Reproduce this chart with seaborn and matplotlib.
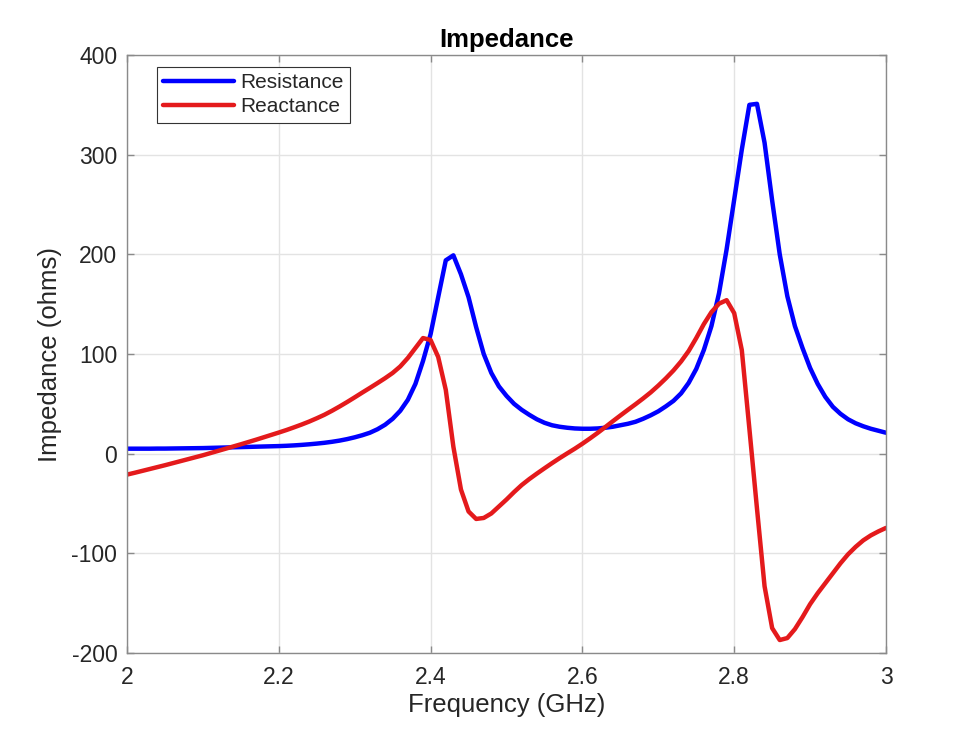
import numpy as np
import pandas as pd
import matplotlib
matplotlib.use("Agg")
import matplotlib.pyplot as plt
import seaborn as sns

FREQ_GHZ = [2.00, 2.01, 2.02, 2.03, 2.04, 2.05, 2.06, 2.07, 2.08, 2.09,
            2.10, 2.11, 2.12, 2.13, 2.14, 2.15, 2.16, 2.17, 2.18, 2.19,
            2.20, 2.21, 2.22, 2.23, 2.24, 2.25, 2.26, 2.27, 2.28, 2.29,
            2.30, 2.31, 2.32, 2.33, 2.34, 2.35, 2.36, 2.37, 2.38, 2.39,
            2.40, 2.41, 2.42, 2.43, 2.44, 2.45, 2.46, 2.47, 2.48, 2.49,
            2.50, 2.51, 2.52, 2.53, 2.54, 2.55, 2.56, 2.57, 2.58, 2.59,
            2.60, 2.61, 2.62, 2.63, 2.64, 2.65, 2.66, 2.67, 2.68, 2.69,
            2.70, 2.71, 2.72, 2.73, 2.74, 2.75, 2.76, 2.77, 2.78, 2.79,
            2.80, 2.81, 2.82, 2.83, 2.84, 2.85, 2.86, 2.87, 2.88, 2.89,
            2.90, 2.91, 2.92, 2.93, 2.94, 2.95, 2.96, 2.97, 2.98, 2.99,
            3.00]

RESISTANCE = [5.0, 5.0, 5.0, 5.0, 5.1, 5.1, 5.2, 5.3, 5.4, 5.5,
              5.6, 5.8, 6.0, 6.2, 6.4, 6.6, 6.8, 7.0, 7.2, 7.4,
              7.6, 7.9, 8.3, 8.8, 9.4, 10.1, 10.9, 11.9, 13.1, 14.6,
              16.4, 18.5, 21.0, 24.5, 29.0, 35.0, 43.0, 54.0, 70.0, 93.0,
              120.0, 157.0, 194.0, 199.0, 180.0, 157.0, 127.0, 100.0, 81.0, 67.5,
              58.0, 50.0, 44.0, 39.0, 34.5, 31.0, 28.5, 27.0, 26.0, 25.3,
              25.0, 25.0, 25.3, 26.0, 27.0, 28.5, 30.0, 32.0, 35.0, 38.5,
              42.5, 47.5, 53.0, 60.5, 71.0, 85.0, 104.0, 128.0, 161.0, 205.0,
              255.0, 305.0, 350.0, 351.0, 312.0, 254.0, 200.0, 158.0, 128.0, 106.0,
              86.0, 70.0, 57.0, 47.0, 40.0, 34.5, 30.5, 27.5, 25.0, 23.0,
              21.0]

REACTANCE = [-21.0, -19.2, -17.3, -15.4, -13.5, -11.6, -9.6, -7.6, -5.6, -3.6,
             -1.6, 0.6, 2.8, 5.0, 7.2, 9.4, 11.7, 14.0, 16.4, 18.8,
             21.2, 23.7, 26.4, 29.2, 32.2, 35.5, 39.0, 43.0, 47.3, 51.8,
             56.5, 61.3, 66.0, 70.8, 75.7, 81.0, 87.5, 96.0, 106.0, 116.0,
             114.0, 97.0, 64.0, 7.0, -36.0, -58.0, -65.5, -64.5, -60.0, -53.0,
             -46.0, -38.5, -31.5, -25.5, -20.0, -14.7, -9.5, -4.5, 0.3, 5.0,
             10.0, 15.3, 20.8, 26.6, 32.5, 38.3, 44.0, 49.6, 55.4, 61.5,
             68.3, 75.6, 83.5, 92.5, 103.0, 116.0, 130.0, 142.0, 150.5, 154.0,
             141.0, 104.0, 25.0, -55.0, -133.0, -175.0, -187.0, -185.0, -176.0, -164.0,
             -151.0, -140.0, -130.0, -120.0, -110.0, -101.0, -93.5, -87.0, -82.0, -78.0,
             -74.5]

SERIES_NAMES = ["Resistance", "Reactance"]
COLORS = ["#0000FF", "#E41A1C"]

df = pd.DataFrame({
    "Frequency": FREQ_GHZ * 2,
    "Impedance": RESISTANCE + REACTANCE,
    "Series": [SERIES_NAMES[0]] * len(FREQ_GHZ) + [SERIES_NAMES[1]] * len(FREQ_GHZ),
})

sns.set_style("white")
plt.rcParams["font.family"] = ["Liberation Sans", "DejaVu Sans"]

fig = plt.figure(figsize=(9.8, 7.35), dpi=100)
ax = fig.add_axes([127 / 980, (735 - 653) / 735, (886 - 127) / 980, (653 - 55) / 735])

sns.lineplot(data=df, x="Frequency", y="Impedance", hue="Series",
             palette=dict(zip(SERIES_NAMES, COLORS)), linewidth=3.2,
             ax=ax, legend=True, sort=False, estimator=None)

ax.set_xlim(2, 3)
ax.set_ylim(-200, 400)
ax.set_xticks([2, 2.2, 2.4, 2.6, 2.8, 3])
ax.set_xticklabels(["2", "2.2", "2.4", "2.6", "2.8", "3"])
ax.set_yticks([-200, -100, 0, 100, 200, 300, 400])
ax.set_yticklabels(["-200", "-100", "0", "100", "200", "300", "400"])

spine_col = "#8a8a8a"
text_col = "#262626"
for s in ax.spines.values():
    s.set_visible(True)
    s.set_color(spine_col)
    s.set_linewidth(1.0)
ax.grid(True, color="#e3e3e3", linewidth=1.0)
ax.set_axisbelow(True)
ax.tick_params(axis="both", which="major", direction="in", length=5,
               width=1.0, color=spine_col, labelcolor=text_col,
               labelsize=16.5, top=True, right=True, bottom=True, left=True)
ax.tick_params(axis="x", pad=9)
ax.tick_params(axis="y", pad=7)

ax.set_xlabel("Frequency (GHz)", fontsize=18.5, color=text_col, labelpad=3)
ax.set_ylabel("Impedance (ohms)", fontsize=18.5, color=text_col, labelpad=7)
ax.set_title("Impedance", fontsize=18.5, fontweight="bold", color="black", pad=6)

handles, labels = ax.get_legend_handles_labels()
leg = ax.legend(handles, labels, loc="upper left",
                bbox_to_anchor=(30 / 759, 1 - 12 / 598), borderaxespad=0,
                fontsize=15, frameon=True, fancybox=False, framealpha=1,
                edgecolor="#333333", handlelength=3.4, handletextpad=0.3,
                borderpad=0.3, labelspacing=0.25)
leg.get_frame().set_linewidth(0.8)
for line in leg.get_lines():
    line.set_linewidth(3.2)

fig.savefig("out.png", dpi=100)
